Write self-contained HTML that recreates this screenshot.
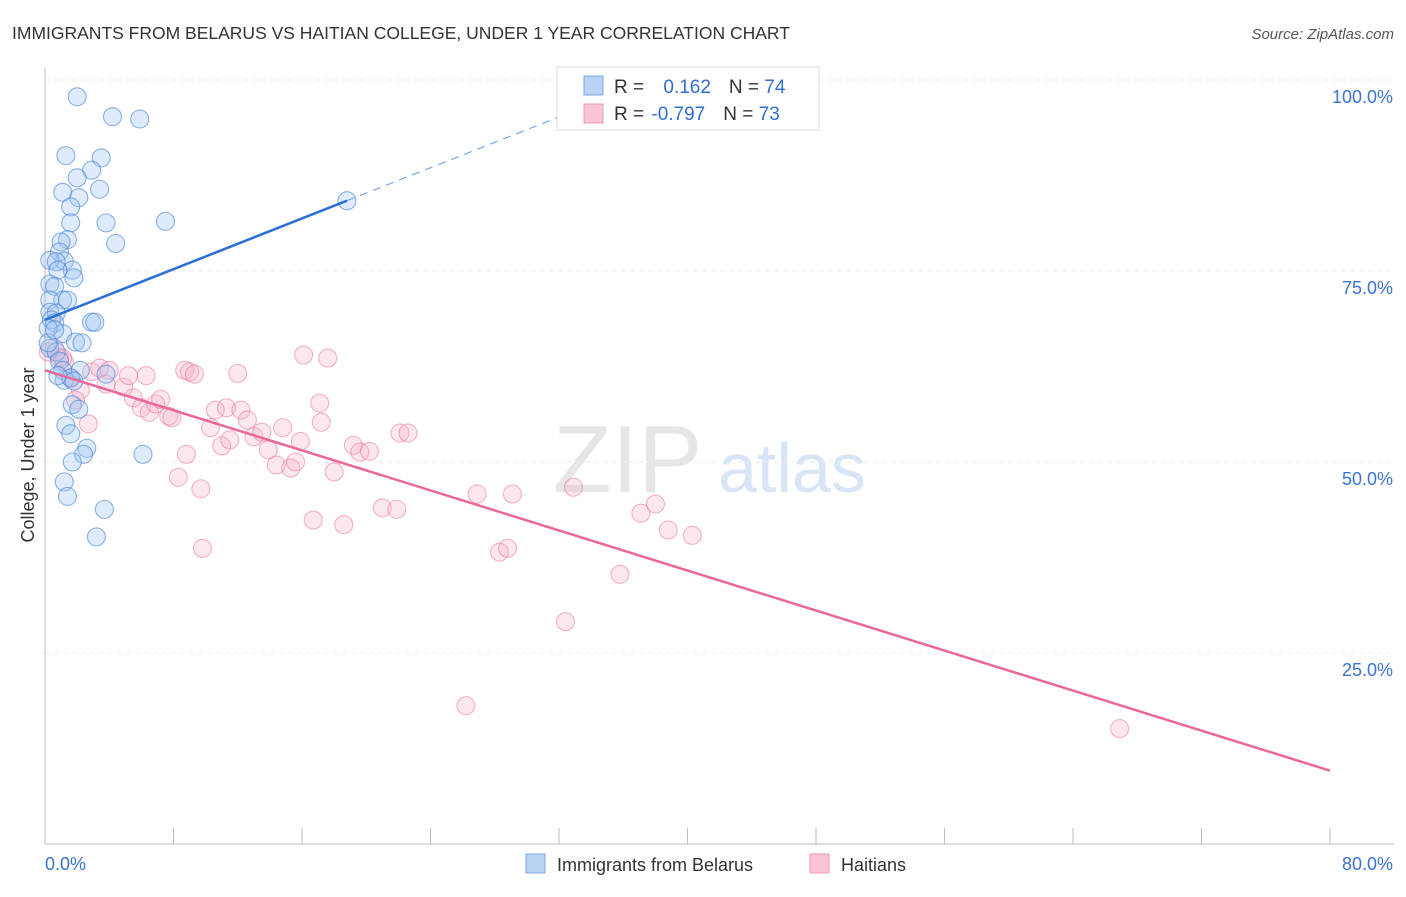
<!DOCTYPE html>
<html><head><meta charset="utf-8"><style>
body{margin:0;background:#fff;font-family:"Liberation Sans",sans-serif}
svg text{font-family:"Liberation Sans",sans-serif}
</style></head><body>
<svg id="c" width="1406" height="892" xmlns="http://www.w3.org/2000/svg">
<text x="12" y="39" font-size="17.5" fill="#333">IMMIGRANTS FROM BELARUS VS HAITIAN COLLEGE, UNDER 1 YEAR CORRELATION CHART</text>
<text x="1394" y="39" font-size="15" fill="#555" text-anchor="end" font-style="italic">Source: ZipAtlas.com</text>
<text x="553" y="492" font-size="96" fill="#e6e6e6" font-family="Liberation Serif">ZIP</text>
<text x="718" y="492" font-size="70" fill="#d9e5f6">atlas</text>
<text transform="translate(34,455) rotate(-90)" font-size="18" fill="#333" text-anchor="middle">College, Under 1 year</text>
<g id="grid"></g><g id="pts"></g><g id="lines"></g>
<g>
<rect x="557" y="67" width="262" height="63" fill="#fff" stroke="#ddd"/>
<rect x="584" y="76" width="19" height="19" fill="#b9d3f5" stroke="#7aa7e6"/>
<rect x="584" y="104" width="19" height="19" fill="#f9c5d6" stroke="#ef9ab5"/>
<text x="614" y="93" font-size="19" fill="#333">R = <tspan fill="#2f6fd6" dx="14">0.162</tspan><tspan fill="#333" dx="18">N = </tspan><tspan fill="#2f6fd6">74</tspan></text>
<text x="614" y="120" font-size="19" fill="#333">R = <tspan fill="#2f6fd6" dx="2">-0.797</tspan><tspan fill="#333" dx="18">N = </tspan><tspan fill="#2f6fd6">73</tspan></text>
</g>
<g>
<rect x="526" y="854" width="19" height="19" fill="#b9d3f5" stroke="#7aa7e6"/>
<text x="557" y="871" font-size="18" fill="#333">Immigrants from Belarus</text>
<rect x="810" y="854" width="19" height="19" fill="#f9c5d6" stroke="#ef9ab5"/>
<text x="841" y="871" font-size="18" fill="#333">Haitians</text>
</g>
</svg>
<script>
const blueX=[2.0,4.2,5.9,1.3,3.5,2.9,2.0,3.4,1.1,2.1,1.6,1.6,3.8,7.5,4.4,1.4,1.0,0.9,1.2,0.3,0.7,1.7,0.8,1.8,0.3,0.6,1.1,1.4,0.3,0.3,0.7,0.4,0.6,2.9,3.1,1.1,1.9,2.3,0.3,0.7,0.9,1.1,2.2,3.8,1.2,1.6,0.8,1.8,1.7,2.1,1.3,1.6,2.6,2.4,1.7,6.1,1.2,1.4,3.7,3.2,18.8,0.2,0.2,0.6];
const blueY=[97.8,95.2,94.9,90.1,89.8,88.2,87.2,85.7,85.3,84.6,83.4,81.3,81.3,81.5,78.6,79.1,78.8,77.5,76.3,76.4,76.2,75.1,75.1,74.1,73.3,73.0,71.2,71.2,71.2,69.6,69.5,68.6,68.2,68.3,68.3,66.8,65.7,65.6,64.9,64.4,63.2,62.0,62.0,61.5,60.7,61.0,61.3,60.6,57.5,56.9,54.8,53.7,51.8,51.0,50.0,51.0,47.4,45.5,43.8,40.2,84.2,67.5,65.6,67.3];
const pinkX=[0.2,0.6,0.9,1.2,2.2,1.9,2.7,2.9,3.4,3.8,4.0,4.9,5.2,5.5,6.0,6.3,6.5,6.9,7.2,7.7,7.9,8.7,9.0,8.8,9.3,8.3,9.7,9.8,10.3,10.6,11.0,11.3,11.5,12.0,12.2,12.6,13.0,13.5,13.9,14.4,14.8,15.3,15.6,15.9,16.1,16.7,17.2,17.6,17.1,18.0,18.6,19.2,19.6,20.2,21.0,21.9,22.1,22.6,26.9,28.3,28.8,29.1,32.4,32.9,35.8,37.1,38.0,38.8,40.3,26.2,66.9,1.1,1.6];
const pinkY=[64.4,64.9,63.7,63.1,59.4,58.1,55.0,61.8,62.3,60.2,62.0,59.8,61.3,58.4,57.1,61.3,56.5,57.6,58.2,56.0,55.8,62.0,61.8,51.0,61.5,48.0,46.5,38.7,54.5,56.8,52.1,57.1,52.9,61.6,56.8,55.5,53.3,53.9,51.6,49.6,54.5,49.2,50.0,52.7,64.0,42.4,55.2,63.6,57.7,48.7,41.8,52.2,51.3,51.4,44.0,43.8,53.8,53.8,45.8,38.2,38.7,45.8,29.1,46.7,35.3,43.3,44.5,41.1,40.4,18.1,15.1,63.6,61.0];
const yTicks=[100,75,50,25];
const yTickLabels=["100.0%","75.0%","50.0%","25.0%"];
const xTicks=[0,8,16,24,32,40,48,56,64,72,80];
const blueTrend=[68.6,0.83];
const pinkTrend=[62.0,-0.655];
const X0=45,X1=1330,Y0=844,Y1=80;
const sx=v=>X0+(X1-X0)*v/80, sy=v=>Y0-(Y0-Y1)*v/100;
const NS="http://www.w3.org/2000/svg";
function mk(p,t,a){const e=document.createElementNS(NS,t);for(const k in a)e.setAttribute(k,a[k]);p.appendChild(e);return e;}
const g=document.getElementById('grid');
yTicks.forEach((v,i)=>{
 const l=mk(g,'line',{x1:X0,x2:1394,y1:sy(v),y2:sy(v),stroke:'#ececec','stroke-dasharray':'5,4'});
 
 
 const t=mk(g,'text',{x:1393,y:sy(v)+23,'font-size':18,fill:'#3b73d1','text-anchor':'end'});t.textContent=yTickLabels[i];
 
 
});
const ax=mk(g,'line',{x1:X0,x2:X0,y1:68,y2:Y0,stroke:'#bbb'});


const bx=mk(g,'line',{x1:X0,x2:1394,y1:Y0,y2:Y0,stroke:'#bbb'});


xTicks.forEach(v=>{const t=mk(g,'line',{x1:sx(v),x2:sx(v),y1:Y0,y2:Y0-16,stroke:'#bbb'});
 
 });
const xl=mk(g,'text',{x:45,y:870,'font-size':18,fill:'#3b73d1'});xl.textContent='0.0%';


const xr=mk(g,'text',{x:1393,y:870,'font-size':18,fill:'#3b73d1','text-anchor':'end'});xr.textContent='80.0%';


const P=document.getElementById('pts');
pinkX.forEach((x,i)=>{const c=mk(P,'circle',{cx:sx(x),cy:sy(pinkY[i]),r:9,fill:'rgba(246,175,200,0.3)',stroke:'rgba(232,120,158,0.55)','stroke-width':1.1});
 
 });
blueX.forEach((x,i)=>{const c=mk(P,'circle',{cx:sx(x),cy:sy(blueY[i]),r:9,fill:'rgba(160,197,242,0.35)',stroke:'rgba(70,128,215,0.6)','stroke-width':1.1});
 
 });
const L=document.getElementById('lines');
const bl=mk(L,'line',{x1:sx(0),y1:sy(blueTrend[0]),x2:sx(18.8),y2:sy(blueTrend[0]+blueTrend[1]*18.8),stroke:'#2a6fd8','stroke-width':2.5});


const bd=mk(L,'line',{x1:sx(18.8),y1:sy(blueTrend[0]+blueTrend[1]*18.8),x2:sx(32),y2:sy(blueTrend[0]+blueTrend[1]*32),stroke:'#7aa7e6','stroke-width':1.2,'stroke-dasharray':'8,6'});


const pl=mk(L,'line',{x1:sx(0),y1:sy(pinkTrend[0]),x2:sx(80),y2:sy(pinkTrend[0]+pinkTrend[1]*80),stroke:'#e8689a','stroke-width':2.5});


</script>
</body></html>
